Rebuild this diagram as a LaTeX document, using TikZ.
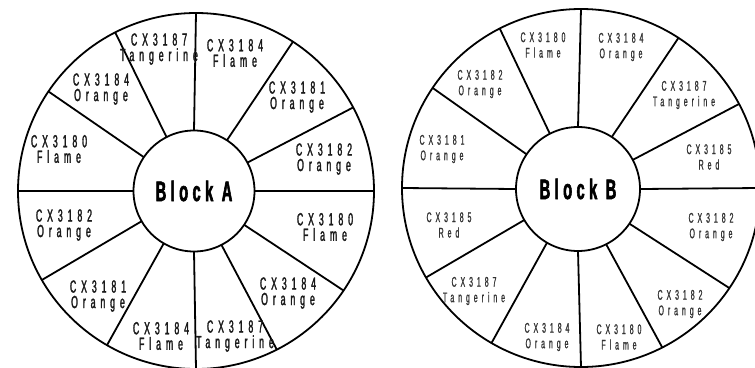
\documentclass[tikz,border=0pt]{standalone}
\usepackage{fontspec}
\setmainfont{Liberation Sans}
\newfontfamily\condfont[FakeStretch=0.5, LetterSpace=28, FakeBold=1.6]{Liberation Sans}
\newfontfamily\condlight[FakeStretch=0.5, LetterSpace=28, FakeBold=0.9]{Liberation Sans}
\newfontfamily\blockfont[FakeStretch=0.52, LetterSpace=16, FakeBold=2]{Liberation Sans}

\begin{document}
\begin{tikzpicture}[
    x=1pt, y=-1pt,
    rim/.style   = {circle, draw=black, line width=1.8pt, outer sep=0pt, inner sep=0pt},
    hub/.style   = {circle, draw=black, fill=white, line width=1.8pt, outer sep=0pt,
                    inner sep=0pt, font=\blockfont\bfseries\fontsize{28}{30}\selectfont},
    spoke/.style = {line width=1.8pt, draw=black},
    tagA/.style  = {align=center, inner sep=0pt, text=black!90,
                    font=\condfont\fontsize{17.5}{15.5}\selectfont},
    tagB/.style  = {align=center, inner sep=0pt, text=black!80,
                    font=\condlight\fontsize{14}{15.5}\selectfont},
]
\clip (0,0) rectangle (755,367);

% Block A: outer ring, hub and twelve spokes
\node[rim, minimum size=356pt] (rimA) at (196,191) {};
\node[hub, minimum size=121pt] (hubA) at (194,191) {Block A};
\foreach \a in {90,57,28,0,326,297,270,240,210,180,146,117} {
    \draw[spoke] (hubA.\a) -- (rimA.\a);
}

% Block B: same wheel, other mix
\node[rim, minimum size=358pt] (rimB) at (581,188) {};
\node[hub, minimum size=124pt] (hubB) at (578,189) {Block B};
\foreach \a in {90,57,28,0,326,297,270,240,210,180,146,117} {
    \draw[spoke] (hubB.\a) -- (rimB.\a);
}

% segment tags, Block A (clockwise from top)
\foreach \x/\y/\c/\n [count=\i] in {
    235/53/CX3184/Flame, 297/97/CX3181/Orange, 324/159/CX3182/Orange,
    325/227/CX3180/Flame, 288/293/CX3184/Orange, 235/336/CX3187/Tangerine,
    161/336/CX3184/Flame, 98/296/CX3181/Orange, 64/225/CX3182/Orange,
    59/149/CX3180/Flame, 101/89/CX3184/Orange, 159/49/CX3187/Tangerine} {
    \node[tagA] (tA\i) at (\x,\y) {\c\\\n};
}

% segment tags, Block B (clockwise from top)
\foreach \x/\y/\c/\n [count=\i] in {
    621/47/CX3184/Orange, 684/95/CX3187/Tangerine, 709/157/CX3185/Red,
    711/227/CX3182/Orange, 680/304/CX3182/Orange, 619/337/CX3180/Flame,
    547/337/CX3184/Orange, 474/291/CX3187/Tangerine, 449/225/CX3185/Red,
    442/149/CX3181/Orange, 480/84/CX3182/Orange, 543/45/CX3180/Flame} {
    \node[tagB] (tB\i) at (\x,\y) {\c\\\n};
}

\end{tikzpicture}
\end{document}
